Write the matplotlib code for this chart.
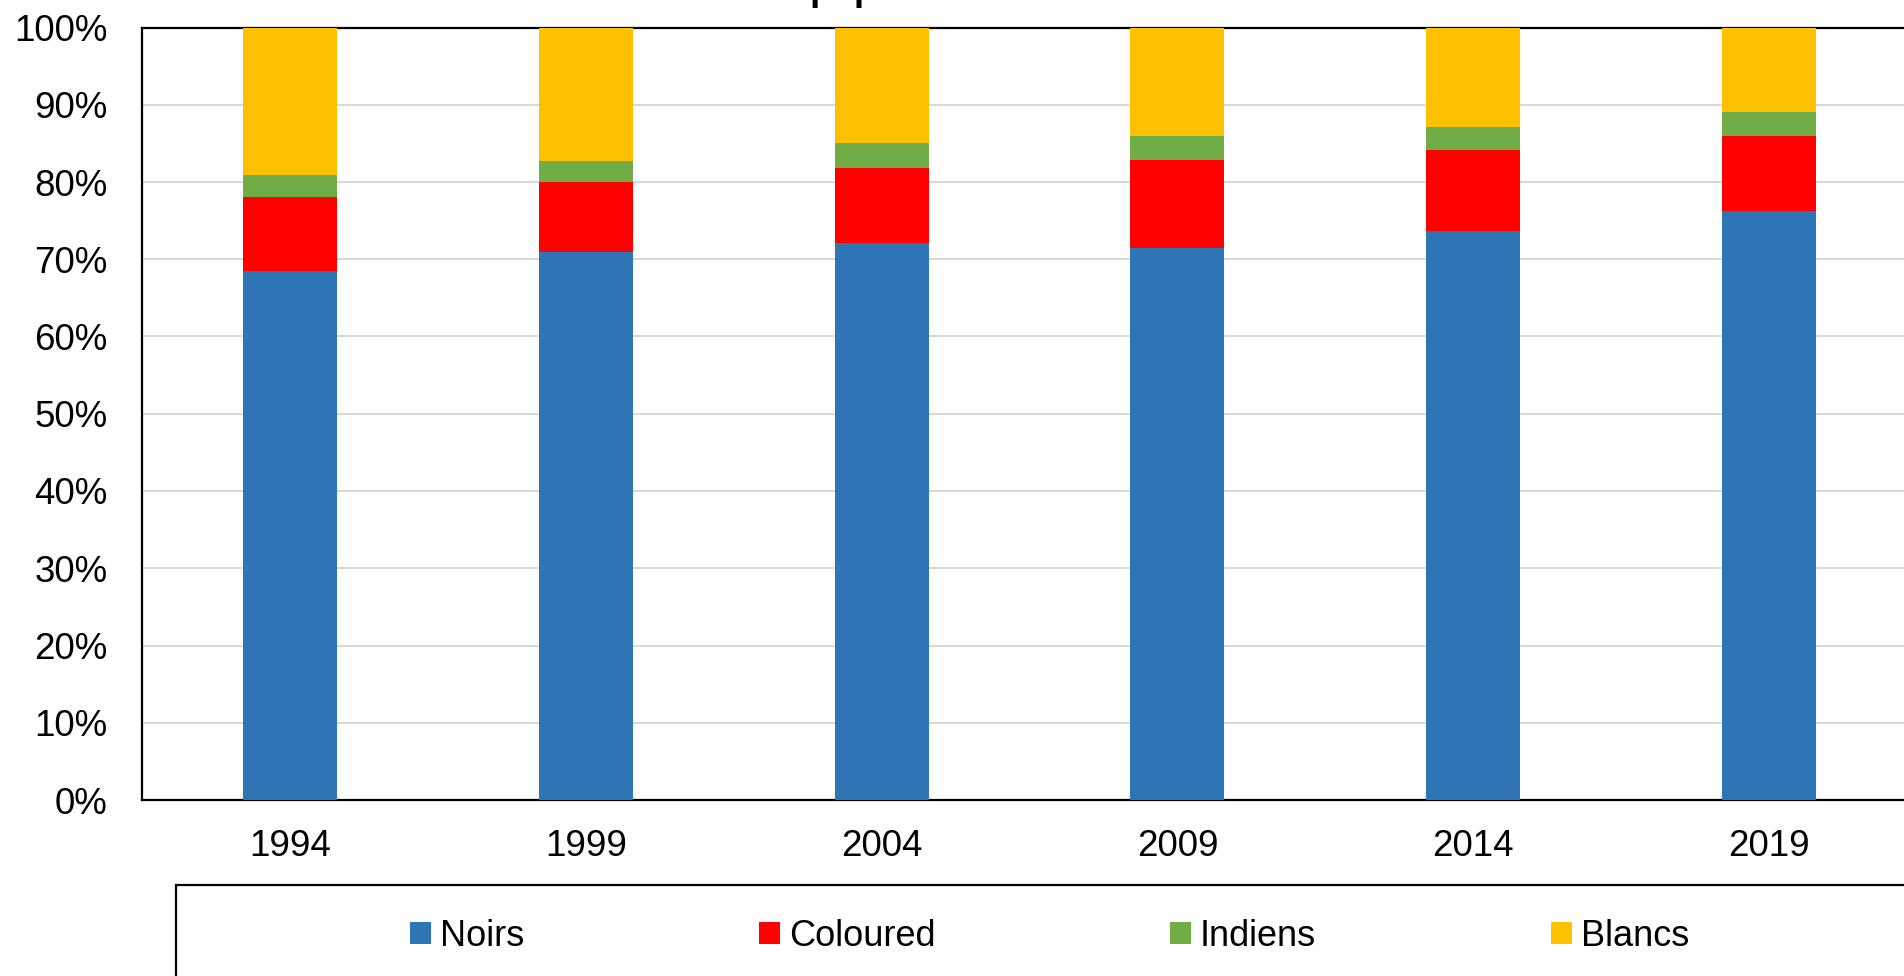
import matplotlib
matplotlib.use("Agg")
import matplotlib.pyplot as plt
from matplotlib.patches import Rectangle, Patch
import numpy as np

years = ["1994", "1999", "2004", "2009", "2014", "2019"]
series_names = ["Noirs", "Coloured", "Indiens", "Blancs"]
noirs = [68.5, 70.9, 72.1, 71.4, 73.7, 76.2]
coloured = [9.5, 9.1, 9.7, 11.4, 10.5, 9.8]
indiens = [2.9, 2.7, 3.2, 3.2, 2.9, 3.1]
blancs = [19.1, 17.3, 15.0, 14.0, 12.9, 10.9]
colors = ["#2E75B6", "#FF0000", "#70AD47", "#FFC000"]
yticks = [0, 10, 20, 30, 40, 50, 60, 70, 80, 90, 100]
title_word = "population"

plt.rcParams["font.family"] = ["Liberation Sans", "DejaVu Sans"]

W, H = 1904, 976
fig = plt.figure(figsize=(W / 100, H / 100), dpi=100)
fig.patch.set_facecolor("white")

ax_left, ax_right, ax_top, ax_bottom = 142, 1917, 27.5, 800
ax = fig.add_axes([ax_left / W, 1 - ax_bottom / H,
                   (ax_right - ax_left) / W, (ax_bottom - ax_top) / H])

x = np.arange(len(years))
bottom = np.zeros(len(years))
for name, vals, c in zip(series_names, [noirs, coloured, indiens, blancs], colors):
    ax.bar(x, vals, width=0.318, bottom=bottom, color=c, label=name,
           zorder=3, linewidth=0)
    bottom += np.array(vals)

ax.set_xlim(-0.5, len(years) - 0.5)
ax.set_ylim(0, 100)
ax.set_yticks(yticks)
ax.set_yticklabels([f"{v}%" for v in yticks])
ax.set_xticks(x)
ax.set_xticklabels(years)
ax.tick_params(axis="both", length=0, labelsize=26.5)
ax.tick_params(axis="y", pad=25)
ax.tick_params(axis="x", pad=21)
ax.yaxis.grid(True, color="#D9D9D9", linewidth=1.5, zorder=0)
ax.set_axisbelow(True)
for s in ax.spines.values():
    s.set_color("black")
    s.set_linewidth(1.6)

# partially visible title (cut at top edge of the image, as in the reference)
fig.text(810 / W, 1.0, title_word, ha="left", va="baseline",
         fontsize=26.5, fontweight="bold")

# legend frame (extends beyond the canvas)
fig.patches.append(Rectangle((176 / W, -0.1), 1.2, (976 + 97.6 - 885) / H,
                             transform=fig.transFigure, fill=False,
                             edgecolor="black", linewidth=1.6))

handles = [Patch(facecolor=c, edgecolor="none") for c in colors]
fig.legend(handles, series_names, loc="center left",
           bbox_to_anchor=(410 / W, (976 - 936) / H), ncol=4,
           frameon=False, fontsize=26, handlelength=0.58, handleheight=0.58,
           handletextpad=0.25, columnspacing=6.5, borderpad=0,
           borderaxespad=0)

fig.savefig("out.png", dpi=100)
